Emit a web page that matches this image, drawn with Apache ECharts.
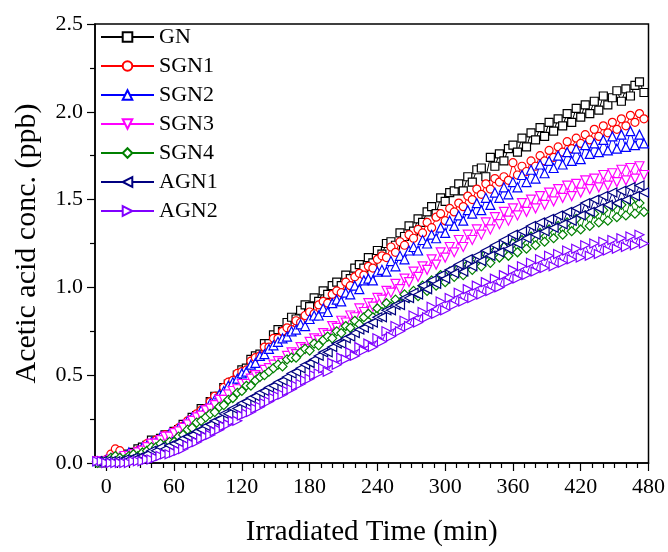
<!DOCTYPE html>
<html>
<head>
<meta charset="utf-8">
<script src="https://cdn.jsdelivr.net/npm/echarts@6/dist/echarts.min.js"></script>
<style>html,body{margin:0;padding:0;background:#fff}#c{width:668px;height:552px}</style>
</head>
<body>
<div id="c"></div>
<script>
// Irradiated time (min)
const timeMin = [-8,-4,0,4,8,12,16,20,24,28, 32,36,40,44,48,52,56,60,64,68, 72,76,80,84,88,92,96,100,104,108, 112,116,120,124,128,132,136,140,144,148, 152,156,160,164,168,172,176,180,184,188, 192,196,200,204,208,212,216,220,224,228, 232,236,240,244,248,252,256,260,264,268, 272,276,280,284,288,292,296,300,304,308, 312,316,320,324,328,332,336,340,344,348, 352,356,360,364,368,372,376,380,384,388, 392,396,400,404,408,412,416,420,424,428, 432,436,440,444,448,452,456,460,464,468, 472,476];

const GN = [0.01,0.00,0.01,0.02,0.02,0.03,0.05,0.04,0.06,0.08, 0.09,0.10,0.13,0.12,0.14,0.16,0.15,0.18,0.19,0.22, 0.22,0.26,0.27,0.31,0.31,0.35,0.38,0.38,0.43,0.45, 0.46,0.50,0.53,0.54,0.59,0.61,0.62,0.68,0.68,0.73, 0.76,0.75,0.80,0.83,0.82,0.87,0.90,0.89,0.94,0.92, 0.98,0.96,1.01,1.03,1.01,1.07,1.05,1.11,1.13,1.11, 1.17,1.14,1.21,1.19,1.25,1.26,1.24,1.31,1.29,1.35, 1.32,1.39,1.37,1.43,1.46,1.42,1.51,1.49,1.54,1.55, 1.59,1.55,1.63,1.60,1.67,1.68,1.63,1.74,1.69,1.76, 1.72,1.79,1.81,1.77,1.85,1.80,1.88,1.84,1.91,1.86, 1.94,1.89,1.96,1.92,1.99,1.94,2.02,1.97,2.04,1.99, 2.06,2.01,2.09,2.04,2.08,2.12,2.06,2.13,2.09,2.15, 2.17,2.11];

const SGN1 = [0.01,0.01,0.02,0.05,0.08,0.07,0.03,0.04,0.05,0.07, 0.08,0.11,0.10,0.13,0.14,0.16,0.15,0.18,0.20,0.21, 0.24,0.25,0.28,0.30,0.31,0.35,0.38,0.38,0.43,0.46, 0.47,0.51,0.52,0.53,0.58,0.60,0.61,0.66,0.66,0.71, 0.71,0.75,0.77,0.76,0.81,0.80,0.84,0.86,0.85,0.90, 0.92,0.91,0.96,0.98,0.97,1.03,1.01,1.06,1.08,1.07, 1.12,1.11,1.16,1.18,1.17,1.23,1.20,1.26,1.24,1.30, 1.28,1.33,1.31,1.37,1.34,1.40,1.42,1.38,1.45,1.43, 1.48,1.46,1.52,1.50,1.56,1.53,1.59,1.56,1.62,1.60, 1.63,1.61,1.71,1.64,1.69,1.66,1.72,1.69,1.75,1.72, 1.78,1.74,1.80,1.77,1.83,1.79,1.85,1.82,1.87,1.84, 1.90,1.86,1.92,1.88,1.94,1.90,1.96,1.92,1.98,1.94, 1.99,1.96];

const SGN2 = [0.01,0.01,0.02,0.01,0.03,0.03,0.04,0.06,0.05,0.07, 0.09,0.10,0.12,0.12,0.15,0.14,0.17,0.17,0.20,0.21, 0.24,0.26,0.27,0.30,0.31,0.34,0.36,0.39,0.41,0.44, 0.46,0.48,0.51,0.52,0.56,0.57,0.61,0.62,0.65,0.67, 0.69,0.71,0.72,0.75,0.76,0.79,0.78,0.82,0.84,0.84, 0.88,0.86,0.91,0.93,0.92,0.97,0.96,1.01,0.99,1.04, 1.05,1.04,1.09,1.10,1.09,1.15,1.12,1.18,1.16,1.21, 1.23,1.21,1.27,1.25,1.30,1.28,1.34,1.31,1.38,1.35, 1.41,1.38,1.44,1.42,1.48,1.44,1.51,1.47,1.54,1.51, 1.57,1.53,1.60,1.57,1.64,1.60,1.67,1.62,1.70,1.65, 1.72,1.68,1.75,1.70,1.77,1.72,1.79,1.73,1.81,1.76, 1.82,1.77,1.84,1.78,1.86,1.79,1.87,1.80,1.89,1.81, 1.87,1.82];

const SGN3 = [0.01,0.01,0.01,0.02,0.03,0.02,0.04,0.04,0.05,0.06, 0.07,0.09,0.11,0.11,0.13,0.15,0.15,0.17,0.18,0.20, 0.22,0.24,0.26,0.27,0.30,0.31,0.33,0.36,0.36,0.39, 0.41,0.42,0.45,0.45,0.48,0.50,0.49,0.53,0.54,0.56, 0.58,0.57,0.61,0.63,0.62,0.66,0.65,0.69,0.71,0.70, 0.74,0.73,0.78,0.77,0.81,0.80,0.84,0.83,0.88,0.86, 0.91,0.89,0.94,0.93,0.98,0.97,1.02,0.99,1.05,1.03, 1.09,1.06,1.12,1.10,1.16,1.13,1.20,1.17,1.23,1.20, 1.27,1.23,1.30,1.27,1.33,1.30,1.37,1.33,1.40,1.36, 1.43,1.38,1.45,1.41,1.48,1.43,1.50,1.45,1.52,1.47, 1.54,1.49,1.56,1.51,1.58,1.52,1.59,1.54,1.61,1.56, 1.62,1.57,1.64,1.58,1.65,1.60,1.67,1.61,1.68,1.62, 1.69,1.64];

const SGN4 = [0.00,0.01,0.01,0.03,0.04,0.03,0.02,0.04,0.05,0.04, 0.06,0.07,0.09,0.09,0.11,0.10,0.12,0.12,0.15,0.16, 0.19,0.20,0.23,0.24,0.26,0.28,0.29,0.32,0.33,0.36, 0.37,0.40,0.41,0.44,0.44,0.47,0.49,0.50,0.52,0.54, 0.56,0.55,0.59,0.60,0.60,0.63,0.65,0.64,0.68,0.67, 0.70,0.72,0.71,0.75,0.74,0.78,0.77,0.81,0.79,0.83, 0.85,0.83,0.88,0.86,0.91,0.89,0.93,0.91,0.96,0.94, 0.98,0.95,1.01,0.98,1.04,1.01,1.07,1.03,1.09,1.06, 1.11,1.07,1.13,1.10,1.16,1.12,1.19,1.14,1.21,1.17, 1.23,1.18,1.25,1.20,1.27,1.22,1.29,1.24,1.31,1.26, 1.33,1.28,1.35,1.30,1.37,1.32,1.39,1.33,1.41,1.35, 1.42,1.37,1.44,1.38,1.46,1.40,1.47,1.41,1.49,1.42, 1.48,1.43];

const AGN1 = [0.01,0.01,0.01,0.01,0.01,0.01,0.02,0.02,0.03,0.03, 0.04,0.05,0.07,0.07,0.09,0.08,0.10,0.11,0.12,0.14, 0.15,0.16,0.18,0.19,0.21,0.22,0.24,0.25,0.28,0.28, 0.31,0.31,0.34,0.35,0.37,0.38,0.40,0.41,0.43,0.44, 0.46,0.47,0.49,0.51,0.52,0.54,0.56,0.57,0.59,0.61, 0.63,0.63,0.66,0.68,0.68,0.71,0.72,0.74,0.76,0.77, 0.79,0.80,0.83,0.83,0.87,0.87,0.90,0.90,0.94,0.94, 0.97,0.96,1.01,0.99,1.04,1.02,1.07,1.05,1.10,1.08, 1.13,1.09,1.16,1.12,1.18,1.15,1.21,1.18,1.24,1.20, 1.27,1.22,1.30,1.25,1.32,1.28,1.35,1.30,1.37,1.32, 1.39,1.34,1.41,1.36,1.43,1.38,1.45,1.41,1.48,1.43, 1.50,1.45,1.52,1.47,1.54,1.48,1.55,1.50,1.57,1.52, 1.58,1.54];

const AGN2 = [0.01,0.01,0.00,0.00,0.00,0.00,0.00,0.00,0.01,0.01, 0.01,0.02,0.02,0.03,0.04,0.05,0.05,0.06,0.07,0.08, 0.10,0.11,0.12,0.14,0.15,0.16,0.18,0.19,0.21,0.22, 0.24,0.24,0.27,0.28,0.29,0.31,0.32,0.34,0.35,0.37, 0.38,0.39,0.41,0.42,0.44,0.45,0.47,0.48,0.50,0.51, 0.54,0.52,0.57,0.56,0.60,0.59,0.63,0.61,0.66,0.64, 0.68,0.66,0.71,0.69,0.75,0.72,0.78,0.75,0.81,0.78, 0.84,0.80,0.86,0.83,0.89,0.85,0.92,0.87,0.94,0.90, 0.97,0.92,0.99,0.94,1.01,0.96,1.03,0.98,1.05,1.00, 1.07,1.03,1.10,1.05,1.12,1.07,1.14,1.09,1.16,1.11, 1.18,1.12,1.19,1.14,1.21,1.16,1.22,1.17,1.24,1.18, 1.25,1.19,1.26,1.21,1.27,1.22,1.28,1.23,1.29,1.24, 1.30,1.25];

const seriesNames = ['GN','SGN1','SGN2','SGN3','SGN4','AGN1','AGN2'];
const seriesValues = [GN, SGN1, SGN2, SGN3, SGN4, AGN1, AGN2];
const xTickLabels = [0,60,120,180,240,300,360,420,480];
const xMinorTicks = [-10,10,20,30,40,50,70,80,90,100,110,130,140,150,160,170,190,200,210,220,230,250,260,270,280,290,310,320,330,340,350,370,380,390,400,410,430,440,450,460,470];

const colors = ['#000000','#ff0000','#0000ff','#ff00ff','#008000','#000080','#8000ff'];
const symbols = ['rect','circle','triangle','path://M0,0 L10,0 L5,9 Z','diamond','path://M9,0 L9,10 L0,5 Z','path://M0,0 L9,5 L0,10 Z'];
const sizes = [8,8,9,9,9,9,9];

const FONT = '"Liberation Serif", "Times New Roman", serif';
const chart = echarts.init(document.getElementById('c'), null, {renderer:'canvas'});

const series = seriesNames.map((name, i) => ({
  name,
  type: 'line',
  data: timeMin.map((t, k) => [t, seriesValues[i][k]]),
  symbol: symbols[i],
  symbolSize: sizes[i],
  showAllSymbol: true,
  lineStyle: {color: colors[i], width: 1},
  itemStyle: {color: '#ffffff', borderColor: colors[i], borderWidth: 1.2},
  emphasis: {disabled: true},
  z: 2 + i
}));

chart.setOption({
  animation: false,
  backgroundColor: '#ffffff',
  grid: {left: 95, right: 19, top: 24, bottom: 84, show: true, borderColor: '#000', borderWidth: 1.5, backgroundColor: 'transparent'},
  legend: {
    data: seriesNames,
    orient: 'vertical',
    left: 95, top: 21,
    itemWidth: 53, itemHeight: 12, itemGap: 7,
    textStyle: {fontFamily: FONT, fontSize: 22, color: '#000'},
    selectedMode: false
  },
  xAxis: [{
    type: 'value', min: -10, max: 480,
    name: 'Irradiated Time (min)', nameLocation: 'middle', nameGap: 55,
    nameTextStyle: {fontFamily: FONT, fontSize: 29, color: '#000'},
    axisLine: {show: true, onZero: false, lineStyle: {color: '#000', width: 1.5}},
    axisTick: {show: true, inside: false, length: 8, customValues: xTickLabels, lineStyle: {color: '#000', width: 1.2}},
    axisLabel: {customValues: xTickLabels, fontFamily: FONT, fontSize: 22, color: '#000', margin: 13},
    splitLine: {show: false}
  }, {
    type: 'value', min: -10, max: 480, position: 'bottom',
    axisLine: {show: false, onZero: false},
    axisTick: {show: true, inside: false, length: 5, customValues: xMinorTicks, lineStyle: {color: '#000', width: 1.2}},
    axisLabel: {show: false},
    splitLine: {show: false}
  }],
  yAxis: {
    type: 'value', min: 0, max: 2.5, interval: 0.5,
    name: 'Acetic acid conc. (ppb)', nameLocation: 'middle', nameGap: 53, nameRotate: 90,
    nameTextStyle: {fontFamily: FONT, fontSize: 30, color: '#000'},
    axisLine: {show: true, onZero: false, lineStyle: {color: '#000', width: 1.5}},
    axisTick: {show: true, inside: false, length: 8, lineStyle: {color: '#000', width: 1.2}},
    minorTick: {show: true, splitNumber: 2, length: 5, lineStyle: {color: '#000', width: 1.2}},
    axisLabel: {fontFamily: FONT, fontSize: 22, color: '#000', margin: 12, formatter: v => v.toFixed(1)},
    splitLine: {show: false}
  },
  series
});
</script>
</body>
</html>
